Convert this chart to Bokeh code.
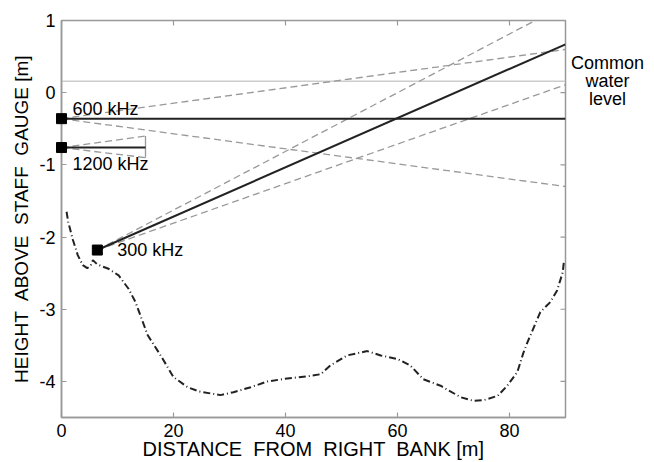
import math
from bokeh.plotting import figure
from bokeh.models import LinearAxis, FixedTicker, Range1d
from bokeh.core.properties import value
from bokeh.embed import file_html
from bokeh.resources import INLINE

# ---- data ----
freq_labels = ["300 kHz", "600 kHz", "1200 kHz"]
transducer_x = [6.4, 0.0, 0.0]
transducer_y = [-2.18, -0.36, -0.76]
beam_end_x = [90.0, 90.0, 15.0]
beam_end_y = [0.67, -0.36, -0.76]
upper_end_y = [1.22, 0.60, -0.60]
lower_end_y = [0.11, -1.30, -0.90]

water_level = 0.16

bed_x = [0.9, 1.2, 2.0, 2.9, 3.8, 4.6, 5.2, 5.6, 6.4, 8.4, 10.2, 12.0, 13.2, 15.4,
         17.7, 20.0, 22.5, 24.6, 28.4, 30.7, 33.8, 36.8, 40.3, 43.9, 46.3, 48.0,
         51.0, 54.6, 57.0, 60.0, 62.3, 64.6, 67.7, 71.3, 73.6, 75.4, 77.9, 79.6,
         81.4, 82.5, 83.2, 85.5, 87.3, 88.5, 89.5, 89.7]
bed_y = [-1.65, -1.79, -2.03, -2.25, -2.39, -2.43, -2.40, -2.32, -2.38, -2.44,
         -2.53, -2.72, -2.90, -3.36, -3.64, -3.94, -4.08, -4.14, -4.19, -4.15,
         -4.08, -4.00, -3.96, -3.93, -3.90, -3.78, -3.64, -3.58, -3.64, -3.69,
         -3.78, -3.97, -4.06, -4.22, -4.27, -4.26, -4.20, -4.06, -3.87, -3.60,
         -3.46, -3.04, -2.90, -2.74, -2.49, -2.35]

x_ticks = [0, 20, 40, 60, 80]
y_ticks = [-4, -3, -2, -1, 0, 1]
side_label = ["Common", "water", "level"]

FONT = "Liberation Sans"
GRAY = "#999999"
X0, X1, Y0, Y1 = 0, 90, -4.5, 1

p = figure(width=654, height=462, output_backend="svg", toolbar_location=None,
           x_range=Range1d(X0, X1), y_range=Range1d(Y0, Y1),
           min_border_left=61, min_border_right=89, min_border_top=20,
           min_border_bottom=45, x_axis_location=None, y_axis_location=None)
p.grid.visible = False
p.outline_line_color = GRAY
p.outline_line_width = 1.5
p.background_fill_color = "white"
p.border_fill_color = "white"

def style_axis(ax, ticks, label_size):
    ax.ticker = FixedTicker(ticks=ticks)
    ax.axis_line_color = GRAY
    ax.axis_line_width = 1.5
    ax.major_tick_line_color = GRAY
    ax.major_tick_line_width = 1.2
    ax.major_tick_in = 5
    ax.major_tick_out = 0
    ax.minor_tick_in = 0
    ax.minor_tick_out = 0
    ax.major_label_text_font = FONT
    ax.axis_label_text_font = FONT
    ax.axis_label_text_font_style = "normal"
    ax.axis_label_text_color = "black"
    ax.major_label_text_color = "black"
    ax.major_label_text_font_size = "18px"
    ax.axis_label_text_font_size = label_size
    ax.major_label_standoff = 6
    ax.axis_label_standoff = -2
    ax.major_label_overrides = {t: str(t) for t in ticks}

NB = "\u00a0"
xb = LinearAxis(axis_label=f"DISTANCE {NB}FROM {NB}RIGHT {NB}BANK [m]")
style_axis(xb, x_ticks, "20px")
p.add_layout(xb, "below")
yl = LinearAxis(axis_label=f"HEIGHT {NB}ABOVE {NB}STAFF {NB}GAUGE [m]")
style_axis(yl, y_ticks, "19px")
yl.axis_label_standoff = 4
p.add_layout(yl, "left")

# inward ticks on the top and right edges of the box
p.ray(x=x_ticks, y=[Y1] * len(x_ticks), length=5, length_units="screen",
      angle=-math.pi / 2, line_color=GRAY, line_width=1.2)
p.ray(x=[X1] * len(y_ticks), y=y_ticks, length=5, length_units="screen",
      angle=math.pi, line_color=GRAY, line_width=1.2)

# common water level
p.line([X0, X1], [water_level, water_level], line_color="#cccccc", line_width=1.5)

# beam spread (dashed)
for i in range(len(freq_labels)):
    x0, y0 = transducer_x[i], transducer_y[i]
    x1 = beam_end_x[i]
    p.line([x0, x1], [y0, upper_end_y[i]], line_color=GRAY, line_width=1.3, line_dash="7 4")
    p.line([x0, x1], [y0, lower_end_y[i]], line_color=GRAY, line_width=1.3, line_dash="7 4")

# 1200 kHz range end
p.line([beam_end_x[2], beam_end_x[2]], [upper_end_y[2], lower_end_y[2]],
       line_color=GRAY, line_width=1.3)

# beam centre lines
for i in range(len(freq_labels)):
    p.line([transducer_x[i], beam_end_x[i]], [transducer_y[i], beam_end_y[i]],
           line_color="#222222", line_width=2)

# bed profile
p.line(bed_x, bed_y, line_color="#222222", line_width=2, line_dash="7 3 1 3")

# transducers (drawn above the frame clip)
p.scatter(transducer_x, transducer_y, marker="square", size=10,
          fill_color="black", line_color="black", level="overlay")

# frequency labels next to each transducer
p.text(x=transducer_x, y=transducer_y, text=freq_labels,
       x_offset=[20, 11, 11], y_offset=[0, -10, 16],
       text_font=value(FONT), text_font_size="18px", text_baseline="middle",
       text_align="left", text_color="black", level="overlay")

# label to the right of the box (overlay level so it is not clipped)
p.text(x=[97.5] * 3, y=[water_level + 0.245] * 3, text=side_label,
       y_offset=[0, 18, 36], text_font=value(FONT), text_font_size="18px",
       text_baseline="middle", text_align="center", text_color="black",
       level="overlay")

open("out.html", "w").write(file_html(p, INLINE))
